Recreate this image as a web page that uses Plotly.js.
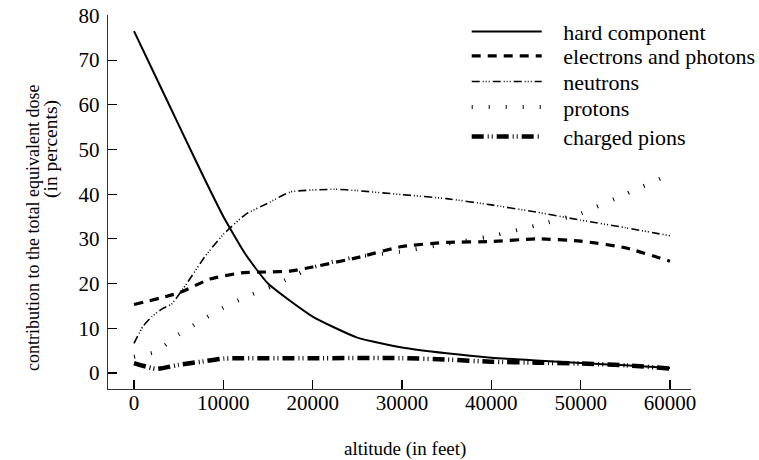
<!DOCTYPE html>
<html>
<head>
<meta charset="utf-8">
<script src="https://cdn.plot.ly/plotly-3.0.1.min.js"></script>
<style>html,body{margin:0;padding:0;background:#fff}#chart{width:759px;height:460px}</style>
</head>
<body>
<div id="chart"></div>
<script>
// altitude (feet) and contribution (percent) per component
const hardX = [0, 2500, 5000, 8000, 10000, 12500, 15000, 20000, 25000, 30000, 35000, 40000, 45000, 50000, 55000, 60000];
const hardY = [76.5, 66, 55.5, 43, 35, 26.5, 20, 12.6, 7.9, 5.7, 4.4, 3.4, 2.8, 2.2, 1.7, 1.1];

const elecX = [0, 5000, 8500, 12000, 15000, 17500, 20000, 25000, 30000, 35000, 40000, 45000, 50000, 55000, 60000];
const elecY = [15.3, 17.9, 21.0, 22.4, 22.6, 22.8, 23.7, 25.8, 28.3, 29.2, 29.4, 30.0, 29.5, 28.0, 25.0];

const neutX = [0, 1000, 2000, 3200, 4200, 6000, 8000, 10000, 12500, 15000, 17500, 22500, 25000, 30000, 35000, 40000, 45000, 50000, 55000, 60000];
const neutY = [6.6, 10.4, 12.6, 14.4, 15.4, 20.3, 26.2, 31.0, 35.5, 38.0, 40.5, 41.1, 40.8, 39.9, 39.0, 37.6, 36.0, 34.2, 32.5, 30.7];

const protX = [0, 2500, 5000, 7500, 10000, 12500, 15000, 17500, 20000, 22500, 25000, 27500, 30000, 35000, 40000, 45000, 50000, 55000, 59500];
const protY = [3.6, 4.8, 8.6, 11.7, 14.6, 17.0, 19.0, 21.3, 23.6, 25.0, 26.0, 26.6, 27.2, 28.9, 30.6, 33.0, 35.7, 40.0, 44.0];

const pionX = [0, 2500, 5000, 7500, 10000, 20000, 30000, 35000, 40000, 45000, 50000, 55000, 60000];
const pionY = [2.2, 0.9, 1.8, 2.5, 3.2, 3.3, 3.3, 3.0, 2.5, 2.3, 2.1, 1.7, 1.0];

const names = ["hard component", "electrons and photons", "neutrons", "protons", "charged pions"];
const xTicks = [0, 10000, 20000, 30000, 40000, 50000, 60000];
const yTicks = [0, 10, 20, 30, 40, 50, 60, 70, 80];

const serif = "Liberation Serif, Times New Roman, serif";
const pad = "\u00a0\u00a0\u00a0";

const styles = [
  {color: "#000", width: 2},
  {color: "#000", width: 3.2, dash: "9px,7px"},
  {color: "#000", width: 1.6, dash: "8px,3px,1px,2px,1px,2px,1px,3px"},
  {color: "#000", width: 4, dash: "1px,16px"},
  {color: "#000", width: 4.5, dash: "12px,4px,1px,3px,1px,4px"}
];
const seriesX = [hardX, elecX, neutX, protX, pionX];
const seriesY = [hardY, elecY, neutY, protY, pionY];
const legendIds = ["legend", "legend2", "legend3", "legend4", "legend5"];
const legendRowPx = [31.7, 56, 81.7, 107.3, 136.7];

const traces = names.map((n, i) => ({
  x: seriesX[i], y: seriesY[i], name: pad + n, mode: "lines",
  legend: legendIds[i],
  line: Object.assign({shape: "spline", smoothing: 0.5}, styles[i])
}));

const layout = {
  width: 759, height: 460,
  margin: {l: 108, r: 68, t: 15, b: 71, autoexpand: false},
  paper_bgcolor: "#fff", plot_bgcolor: "#fff",
  font: {family: serif, color: "#000", size: 19},
  showlegend: true,
  xaxis: {range: [-2910, 62350], tickvals: xTicks, ticktext: xTicks.map(String),
          showgrid: false, zeroline: false, showline: true, linecolor: "#333", linewidth: 1.2,
          ticks: "inside", ticklen: 9, tickcolor: "#000", tickwidth: 1.2,
          tickfont: {family: serif, size: 21}, ticklabelstandoff: -5},
  yaxis: {range: [-3.6, 80.1], tickvals: yTicks, ticktext: yTicks.map(String),
          showgrid: false, zeroline: false, showline: true, linecolor: "#333", linewidth: 1.2,
          ticks: "inside", ticklen: 9, tickcolor: "#000", tickwidth: 1.2,
          tickfont: {family: serif, size: 21}, ticklabelstandoff: 3},
  annotations: [
    {text: "altitude (in feet)", xref: "paper", yref: "paper", x: (405 - 108) / 583, y: -(449 - 389) / 374,
     xanchor: "center", yanchor: "middle", showarrow: false, font: {family: serif, size: 19}},
    {text: "contribution to the total equivalent dose", xref: "paper", yref: "paper",
     x: (33 - 108) / 583, y: (389 - 228) / 374, xanchor: "center", yanchor: "middle",
     textangle: -90, showarrow: false, font: {family: serif, size: 18}},
    {text: "(in percents)", xref: "paper", yref: "paper",
     x: (51 - 108) / 583, y: (389 - 149) / 374, xanchor: "center", yanchor: "middle",
     textangle: -90, showarrow: false, font: {family: serif, size: 19.5}}
  ]
};

legendIds.forEach((id, i) => {
  layout[id] = {x: (466.7 - 108) / 583, y: (389 - legendRowPx[i]) / 374,
                xanchor: "left", yanchor: "middle", bgcolor: "rgba(0,0,0,0)",
                font: {family: serif, size: 22}, itemwidth: 70};
});

Plotly.newPlot("chart", traces, layout, {staticPlot: true, displayModeBar: false});
</script>
</body>
</html>
